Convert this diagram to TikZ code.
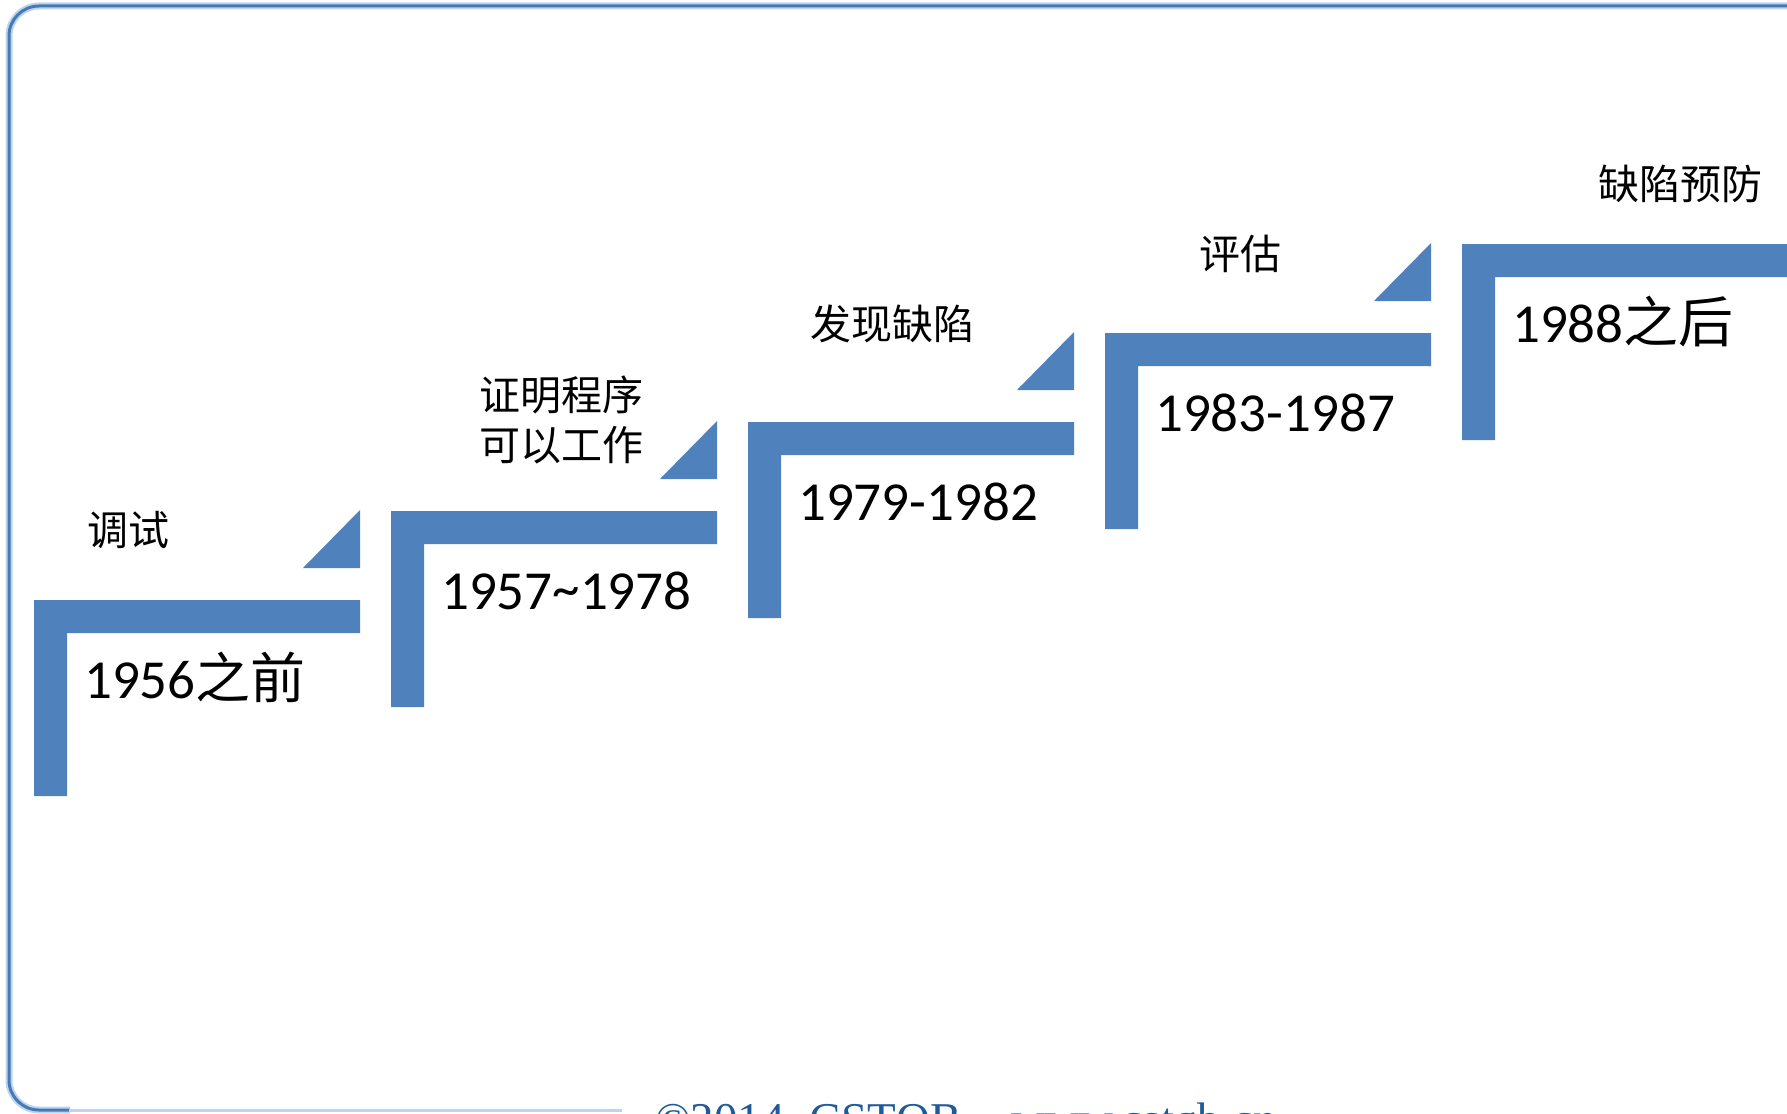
\documentclass[tikz,border=0pt]{standalone}
\usepackage{fontspec}
\setmainfont{Carlito}
\newfontfamily\cjk{Noto Sans CJK SC}
\newfontfamily\footserif{Liberation Serif}
\definecolor{stepblue}{RGB}{79,129,189}
\definecolor{framedark}{RGB}{70,122,182}
\definecolor{framelight}{RGB}{190,212,237}
\definecolor{foottext}{RGB}{31,91,153}
\tikzset{
  stepshape/.style={fill=stepblue},
  datetext/.style={inner sep=0pt, anchor=base west, font=\fontsize{55}{66}\selectfont},
  labeltext/.style={inner sep=0pt, align=center, font=\cjk\fontsize{41}{50}\selectfont},
}
\begin{document}
\begin{tikzpicture}[x=1pt,y=-1pt]
\useasboundingbox (0,0) rectangle (1787,1113);
% frame
\draw[framelight, line width=7pt, rounded corners=30pt] (1800,6) -- (9,6) -- (9,1110) -- (70,1110);
\draw[framedark, line width=3pt, rounded corners=30pt] (1800,6) -- (9,6) -- (9,1110) -- (70,1110);
\draw[framelight, line width=3pt] (69,1110) -- (622,1110);
% steps
\foreach \X/\Y in {34/600, 391/511, 748/422, 1105/333, 1462/244} {
  \fill[stepshape] (\X,\Y) -- ++(326,0) -- ++(0,33) -- ++(-293,0) -- ++(0,163) -- ++(-33,0) -- cycle;
}
\foreach \X/\Y in {34/600, 391/511, 748/422, 1105/333} {
  \fill[stepshape] (\X+269,\Y-32) -- ++(57,0) -- ++(0,-58) -- cycle;
}
% dates
\node[datetext] (d1) at (84,698) {1956{\cjk 之前}};
\node[datetext] (d2) at (441,609) {1957\raisebox{2pt}{\char"007E}1978};
\node[datetext] (d3) at (798,520) {1979-1982};
\node[datetext] (d4) at (1155,431) {1983-1987};
\node[datetext] (d5) at (1512,342) {1988{\cjk 之后}};
% labels
\node[labeltext] (l1) at (128,530) {调试};
\node[labeltext] (l2) at (561,420) {证明程序\\可以工作};
\node[labeltext] (l3) at (892,324) {发现缺陷};
\node[labeltext] (l4) at (1240,254) {评估};
\node[labeltext] (l5) at (1680,184) {缺陷预防};
% footer (cut off by the page edge, as in the reference)
\node[inner sep=0pt, anchor=base west, text=foottext, font=\footserif\fontsize{47}{56}\selectfont] (foot) at (655,1135) {©2014\hspace{25pt}CSTQB\hspace{50pt}www.cstqb.cn};
\end{tikzpicture}
\end{document}
